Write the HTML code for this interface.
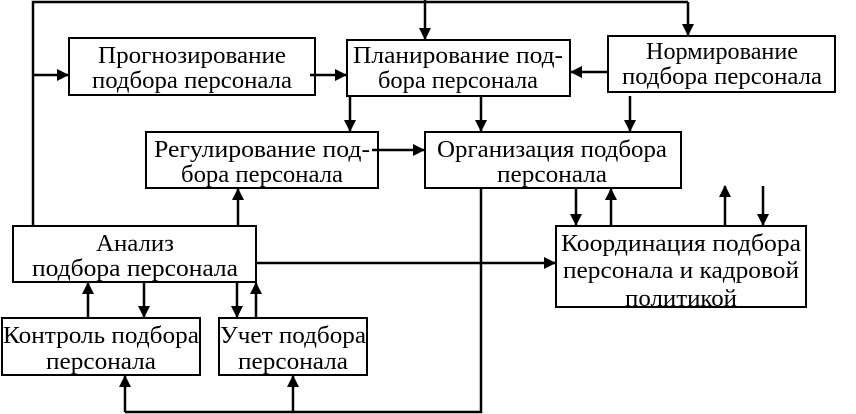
<!DOCTYPE html>
<html><head><meta charset="utf-8"><style>
html,body{margin:0;padding:0;background:#fff;}
svg{display:block;}
text{font-family:"Liberation Serif",serif;font-size:24px;fill:#000;text-anchor:middle;}
</style></head><body>
<svg width="856" height="414" viewBox="0 0 856 414" xmlns="http://www.w3.org/2000/svg">
<defs>
<marker id="a" markerWidth="12" markerHeight="12" refX="11" refY="6" orient="auto" markerUnits="userSpaceOnUse">
<path d="M0,0 L12,6 L0,12 Z" fill="#000"/></marker>
</defs>
<g fill="none" stroke="#000" stroke-width="2">
<rect x="69" y="38" width="246" height="57"/>
<rect x="347" y="40" width="223" height="56"/>
<rect x="608" y="36" width="227" height="56"/>
<rect x="146" y="132" width="232" height="56"/>
<rect x="425" y="132" width="256" height="56"/>
<rect x="13" y="226" width="243" height="56"/>
<rect x="556" y="226" width="250" height="81"/>
<rect x="2" y="318" width="198" height="57"/>
<rect x="219" y="318" width="148" height="57"/>
</g>
<g stroke="#000" stroke-width="2.5" fill="none">
<polyline points="33,226 33,2 688,2"/>
<line x1="33" y1="75" x2="68" y2="75" marker-end="url(#a)"/>
<line x1="425" y1="0" x2="425" y2="39" marker-end="url(#a)"/>
<line x1="688" y1="2" x2="688" y2="35" marker-end="url(#a)"/>
<line x1="310" y1="75" x2="346" y2="75" marker-end="url(#a)"/>
<line x1="608" y1="72" x2="571" y2="72" marker-end="url(#a)"/>
<line x1="350" y1="96" x2="350" y2="131" marker-end="url(#a)"/>
<line x1="481" y1="96" x2="481" y2="131" marker-end="url(#a)"/>
<line x1="630" y1="96" x2="630" y2="131" marker-end="url(#a)"/>
<line x1="372" y1="150" x2="424" y2="150" marker-end="url(#a)"/>
<line x1="238" y1="226" x2="238" y2="189" marker-end="url(#a)"/>
<line x1="576" y1="188" x2="576" y2="225" marker-end="url(#a)"/>
<line x1="611" y1="226" x2="611" y2="189" marker-end="url(#a)"/>
<line x1="725" y1="226" x2="725" y2="186" marker-end="url(#a)"/>
<line x1="763" y1="186" x2="763" y2="225" marker-end="url(#a)"/>
<line x1="256" y1="263" x2="555" y2="263" marker-end="url(#a)"/>
<polyline points="481,188 481,412 125,412"/>
<line x1="125" y1="412" x2="125" y2="376" marker-end="url(#a)"/>
<line x1="293" y1="412" x2="293" y2="376" marker-end="url(#a)"/>
<line x1="88" y1="318" x2="88" y2="283" marker-end="url(#a)"/>
<line x1="144" y1="282" x2="144" y2="317" marker-end="url(#a)"/>
<line x1="237" y1="282" x2="237" y2="317" marker-end="url(#a)"/>
<line x1="256" y1="318" x2="256" y2="283" marker-end="url(#a)"/>
</g>
<text x="192" y="63" textLength="188" lengthAdjust="spacingAndGlyphs">Прогнозирование</text>
<text x="192" y="88" textLength="200" lengthAdjust="spacingAndGlyphs">подбора персонала</text>
<text x="458" y="63" textLength="210" lengthAdjust="spacingAndGlyphs">Планирование под-</text>
<text x="458" y="88" textLength="160" lengthAdjust="spacingAndGlyphs">бора персонала</text>
<text x="722" y="59" textLength="152" lengthAdjust="spacingAndGlyphs">Нормирование</text>
<text x="722" y="84" textLength="200" lengthAdjust="spacingAndGlyphs">подбора персонала</text>
<text x="262" y="157" textLength="216" lengthAdjust="spacingAndGlyphs">Регулирование под-</text>
<text x="262" y="182" textLength="162" lengthAdjust="spacingAndGlyphs">бора персонала</text>
<text x="552" y="157" textLength="230" lengthAdjust="spacingAndGlyphs">Организация подбора</text>
<text x="552" y="182" textLength="110" lengthAdjust="spacingAndGlyphs">персонала</text>
<text x="135" y="251" textLength="78" lengthAdjust="spacingAndGlyphs">Анализ</text>
<text x="135" y="276" textLength="206" lengthAdjust="spacingAndGlyphs">подбора персонала</text>
<text x="681" y="251" textLength="240" lengthAdjust="spacingAndGlyphs">Координация подбора</text>
<text x="681" y="278" textLength="236" lengthAdjust="spacingAndGlyphs">персонала и кадровой</text>
<text x="681" y="306" textLength="112" lengthAdjust="spacingAndGlyphs">политикой</text>
<text x="101" y="343" textLength="196" lengthAdjust="spacingAndGlyphs">Контроль подбора</text>
<text x="101" y="369" textLength="110" lengthAdjust="spacingAndGlyphs">персонала</text>
<text x="293" y="343" textLength="146" lengthAdjust="spacingAndGlyphs">Учет подбора</text>
<text x="293" y="369" textLength="110" lengthAdjust="spacingAndGlyphs">персонала</text>
</svg>
</body></html>
